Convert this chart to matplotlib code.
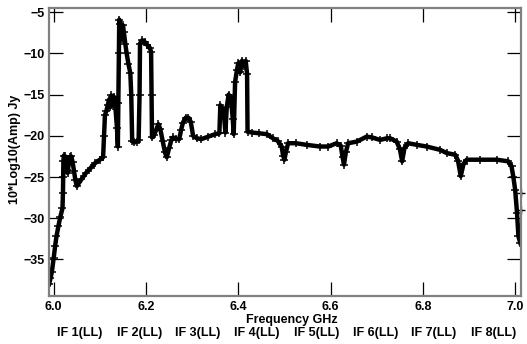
import numpy as np
import matplotlib
matplotlib.use('Agg')
import matplotlib.pyplot as plt

plt.rcParams['font.family'] = ['Liberation Sans', 'DejaVu Sans']

# spectrum (GHz, dB)
freq = [5.990, 5.993, 5.996, 6.000, 6.003, 6.006, 6.010, 6.014, 6.019, 6.020,
        6.0205, 6.021, 6.022, 6.025, 6.027, 6.029, 6.030, 6.032, 6.035, 6.038,
        6.041, 6.044, 6.047, 6.050, 6.060, 6.070, 6.080, 6.090, 6.100, 6.107,
        6.109, 6.111, 6.114, 6.117, 6.120, 6.123, 6.125, 6.128, 6.131, 6.134,
        6.137, 6.139, 6.140, 6.141, 6.142, 6.144, 6.146, 6.148, 6.150, 6.152,
        6.155, 6.158, 6.162, 6.166, 6.168, 6.170, 6.175, 6.180, 6.184, 6.186,
        6.187, 6.192, 6.197, 6.203, 6.208, 6.211, 6.212, 6.213, 6.217, 6.222,
        6.227, 6.231, 6.236, 6.241, 6.245, 6.250, 6.255, 6.259, 6.265, 6.272,
        6.276, 6.280, 6.286, 6.292, 6.297, 6.302, 6.310, 6.320, 6.335, 6.350,
        6.359, 6.361, 6.365, 6.369, 6.372, 6.375, 6.379, 6.384, 6.388, 6.390,
        6.393, 6.397, 6.400, 6.404, 6.408, 6.412, 6.416, 6.419, 6.420, 6.430,
        6.445, 6.462, 6.475, 6.485, 6.494, 6.497, 6.500, 6.503, 6.508, 6.525,
        6.548, 6.577, 6.595, 6.613, 6.622, 6.626, 6.629, 6.633, 6.638, 6.657,
        6.678, 6.690, 6.707, 6.722, 6.729, 6.743, 6.750, 6.755, 6.760, 6.768,
        6.787, 6.808, 6.837, 6.852, 6.870, 6.876, 6.882, 6.888, 6.895, 6.924,
        6.960, 6.985, 6.992, 6.996, 7.000, 7.004, 7.007, 7.011]
amp = [-38.0, -37.3, -36.5, -34.8, -33.4, -32.2, -31.0, -29.9, -28.8, -27.0,
       -25.0, -23.0, -22.4, -22.5, -23.4, -24.2, -24.5, -23.6, -22.6, -22.5,
       -23.2, -24.3, -25.4, -26.1, -25.3, -24.5, -23.9, -23.3, -22.9, -22.6,
       -20.0, -17.5, -17.0, -16.3, -15.6, -16.5, -15.1, -16.0, -15.3, -16.8,
       -19.0, -21.3, -16.0, -10.0, -5.9, -6.4, -7.3, -8.3, -6.6, -7.4,
       -8.8, -10.0, -11.3, -12.4, -15.0, -20.6, -20.8, -20.7, -20.5, -15.0,
       -8.8, -8.4, -8.6, -9.0, -9.3, -9.8, -15.0, -20.2, -19.9, -19.3,
       -18.6, -19.2, -20.6, -22.0, -22.6, -21.5, -20.5, -20.2, -20.4, -20.4,
       -19.3, -18.4, -17.8, -17.8, -18.3, -20.0, -20.3, -20.4, -20.1, -19.8,
       -19.7, -16.3, -16.7, -17.5, -19.6, -16.5, -15.0, -15.4, -18.0, -19.8,
       -13.5, -12.0, -11.2, -12.3, -10.9, -11.5, -10.9, -12.5, -19.5, -19.6,
       -19.7, -19.8, -20.3, -20.6, -21.3, -22.4, -22.9, -22.0, -20.9, -20.9,
       -21.1, -21.3, -21.3, -20.9, -21.2, -22.6, -23.5, -22.0, -20.9, -20.7,
       -20.1, -20.2, -20.5, -20.3, -20.3, -20.7, -21.6, -23.1, -21.5, -20.9,
       -21.1, -21.3, -21.7, -22.1, -22.3, -23.0, -24.9, -23.4, -22.9, -22.9,
       -22.9, -23.1, -23.7, -25.0, -26.6, -29.4, -32.2, -33.0]

# stray points sitting on the right frame edge
edge_freq = [7.0128, 7.0128]
edge_amp = [-27.0, -29.0]

if_labels = ['IF 1(LL)', 'IF 2(LL)', 'IF 3(LL)', 'IF 4(LL)',
             'IF 5(LL)', 'IF 6(LL)', 'IF 7(LL)', 'IF 8(LL)']
if_centers = [6.057, 6.186, 6.313, 6.441, 6.570, 6.697, 6.824, 6.953]

fig = plt.figure(figsize=(5.27, 3.44), dpi=100)
ax = fig.add_axes([0.093, 0.140, 0.896, 0.837])

ax.plot(freq, amp, color='black', linewidth=3.2, marker='+',
        markersize=6, markeredgewidth=1.1, solid_joinstyle='round')
ax.plot(edge_freq, edge_amp, linestyle='none', color='black', marker='+',
        markersize=6, markeredgewidth=1.0, clip_on=False)

ax.set_xlim(5.9898, 7.013)
ax.set_ylim(-39.42, -4.48)
ax.set_xticks([6.0, 6.2, 6.4, 6.6, 6.8, 7.0])
ax.set_xticklabels(['6.0', '6.2', '6.4', '6.6', '6.8', '7.0'])
ax.set_yticks([-35, -30, -25, -20, -15, -10, -5])

for s in ax.spines.values():
    s.set_color('#808080')
    s.set_linewidth(1.6)
ax.tick_params(direction='in', length=10, width=0.9, color='black',
               top=True, right=True, labelsize=9)
ax.tick_params(axis='x', pad=3.5)
ax.tick_params(axis='y', pad=3)
for lab in ax.get_xticklabels() + ax.get_yticklabels():
    lab.set_fontweight('bold')

ax.set_xlabel('Frequency GHz', fontsize=9, fontweight='bold')
ax.xaxis.set_label_coords(0.514, -0.083)
ax.xaxis.label.set_va('center')
ax.set_ylabel('10*Log10(Amp) Jy', fontsize=9, fontweight='bold')
ax.yaxis.set_label_coords(-0.072, 0.51)
ax.yaxis.label.set_va('center')

for lab, xc in zip(if_labels, if_centers):
    ax.text(xc, -0.128, lab, transform=ax.get_xaxis_transform(),
            ha='center', va='center', fontsize=9, fontweight='bold')

fig.savefig('out.png', dpi=100)
